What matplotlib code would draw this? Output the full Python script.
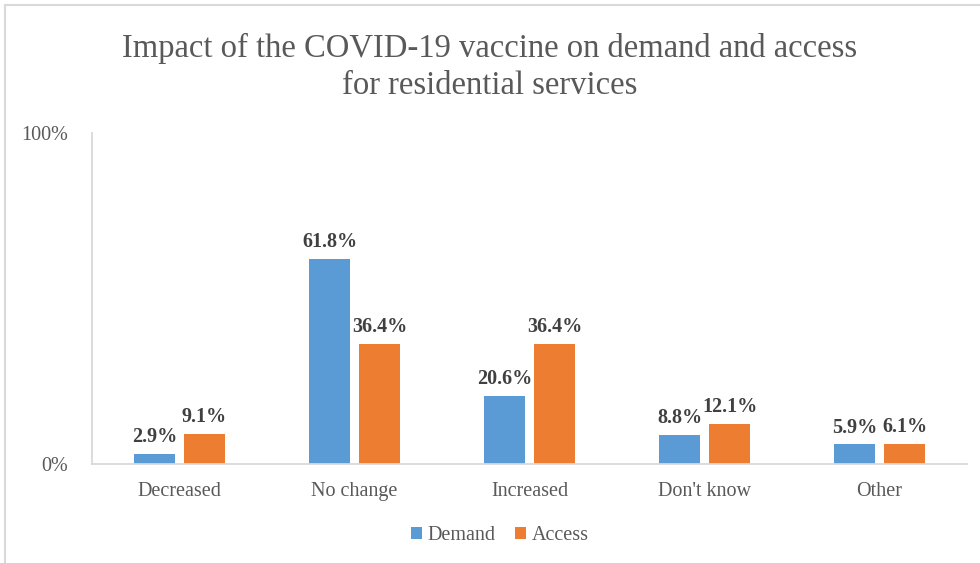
import matplotlib.pyplot as plt
import numpy as np
from matplotlib.patches import Rectangle

categories = ["Decreased", "No change", "Increased", "Don't know", "Other"]
demand = [2.9, 61.8, 20.6, 8.8, 5.9]
access = [9.1, 36.4, 36.4, 12.1, 6.1]
series_names = ["Demand", "Access"]

blue = "#5b9bd5"
orange = "#ed7d31"
text_grey = "#595959"
label_grey = "#404040"
line_grey = "#d9d9d9"

plt.rcParams["font.family"] = ["Liberation Serif", "DejaVu Serif"]

fig = plt.figure(figsize=(9.8, 5.63), dpi=100)
ax = fig.add_axes([92 / 980, 1 - 464 / 563, 875 / 980, 331 / 563])

x = np.arange(len(categories))
width = 0.23
offset = 0.143

bars_d = ax.bar(x - offset, demand, width, color=blue, label=series_names[0])
bars_a = ax.bar(x + offset, access, width, color=orange, label=series_names[1])

for bars, vals in ((bars_d, demand), (bars_a, access)):
    for b, v in zip(bars, vals):
        ax.annotate(f"{v:.1f}%", (b.get_x() + b.get_width() / 2, v),
                    xytext=(0, 5), textcoords="offset points",
                    ha="center", va="bottom", fontsize=14.5,
                    fontweight="bold", color=label_grey)

ax.set_xlim(-0.5, len(categories) - 0.5)
ax.set_ylim(0, 100)
ax.set_yticks([0, 100])
ax.set_yticklabels(["0%", "100%"])
ax.set_xticks(x)
ax.set_xticklabels(categories)
ax.tick_params(axis="both", length=0, labelsize=14.5, colors=text_grey)
ax.tick_params(axis="y", pad=17)
ax.tick_params(axis="x", pad=13)

for side in ("top", "right"):
    ax.spines[side].set_visible(False)
ax.spines["left"].set_color(line_grey)
ax.spines["bottom"].set_color(line_grey)
ax.spines["left"].set_linewidth(1.3)
ax.spines["bottom"].set_linewidth(1.3)

fig.text(0.5, 1 - 67 / 563,
         "Impact of the COVID-19 vaccine on demand and access\nfor residential services",
         ha="center", va="center", fontsize=23.5, color=text_grey,
         linespacing=1.3)

leg = fig.legend(loc="center", bbox_to_anchor=(0.51, 1 - 536 / 563), ncol=2,
                 frameon=False, fontsize=14.5, handlelength=0.55,
                 handleheight=0.55, handletextpad=0.25, columnspacing=1.0)
for t in leg.get_texts():
    t.set_color(text_grey)

# outer chart frame
fig.patches.append(Rectangle((5 / 980, -0.05), 1.2, 1 - 5 / 563 + 0.05,
                             transform=fig.transFigure, fill=False,
                             edgecolor=line_grey, linewidth=1.5))

fig.savefig("out.png", dpi=100)
